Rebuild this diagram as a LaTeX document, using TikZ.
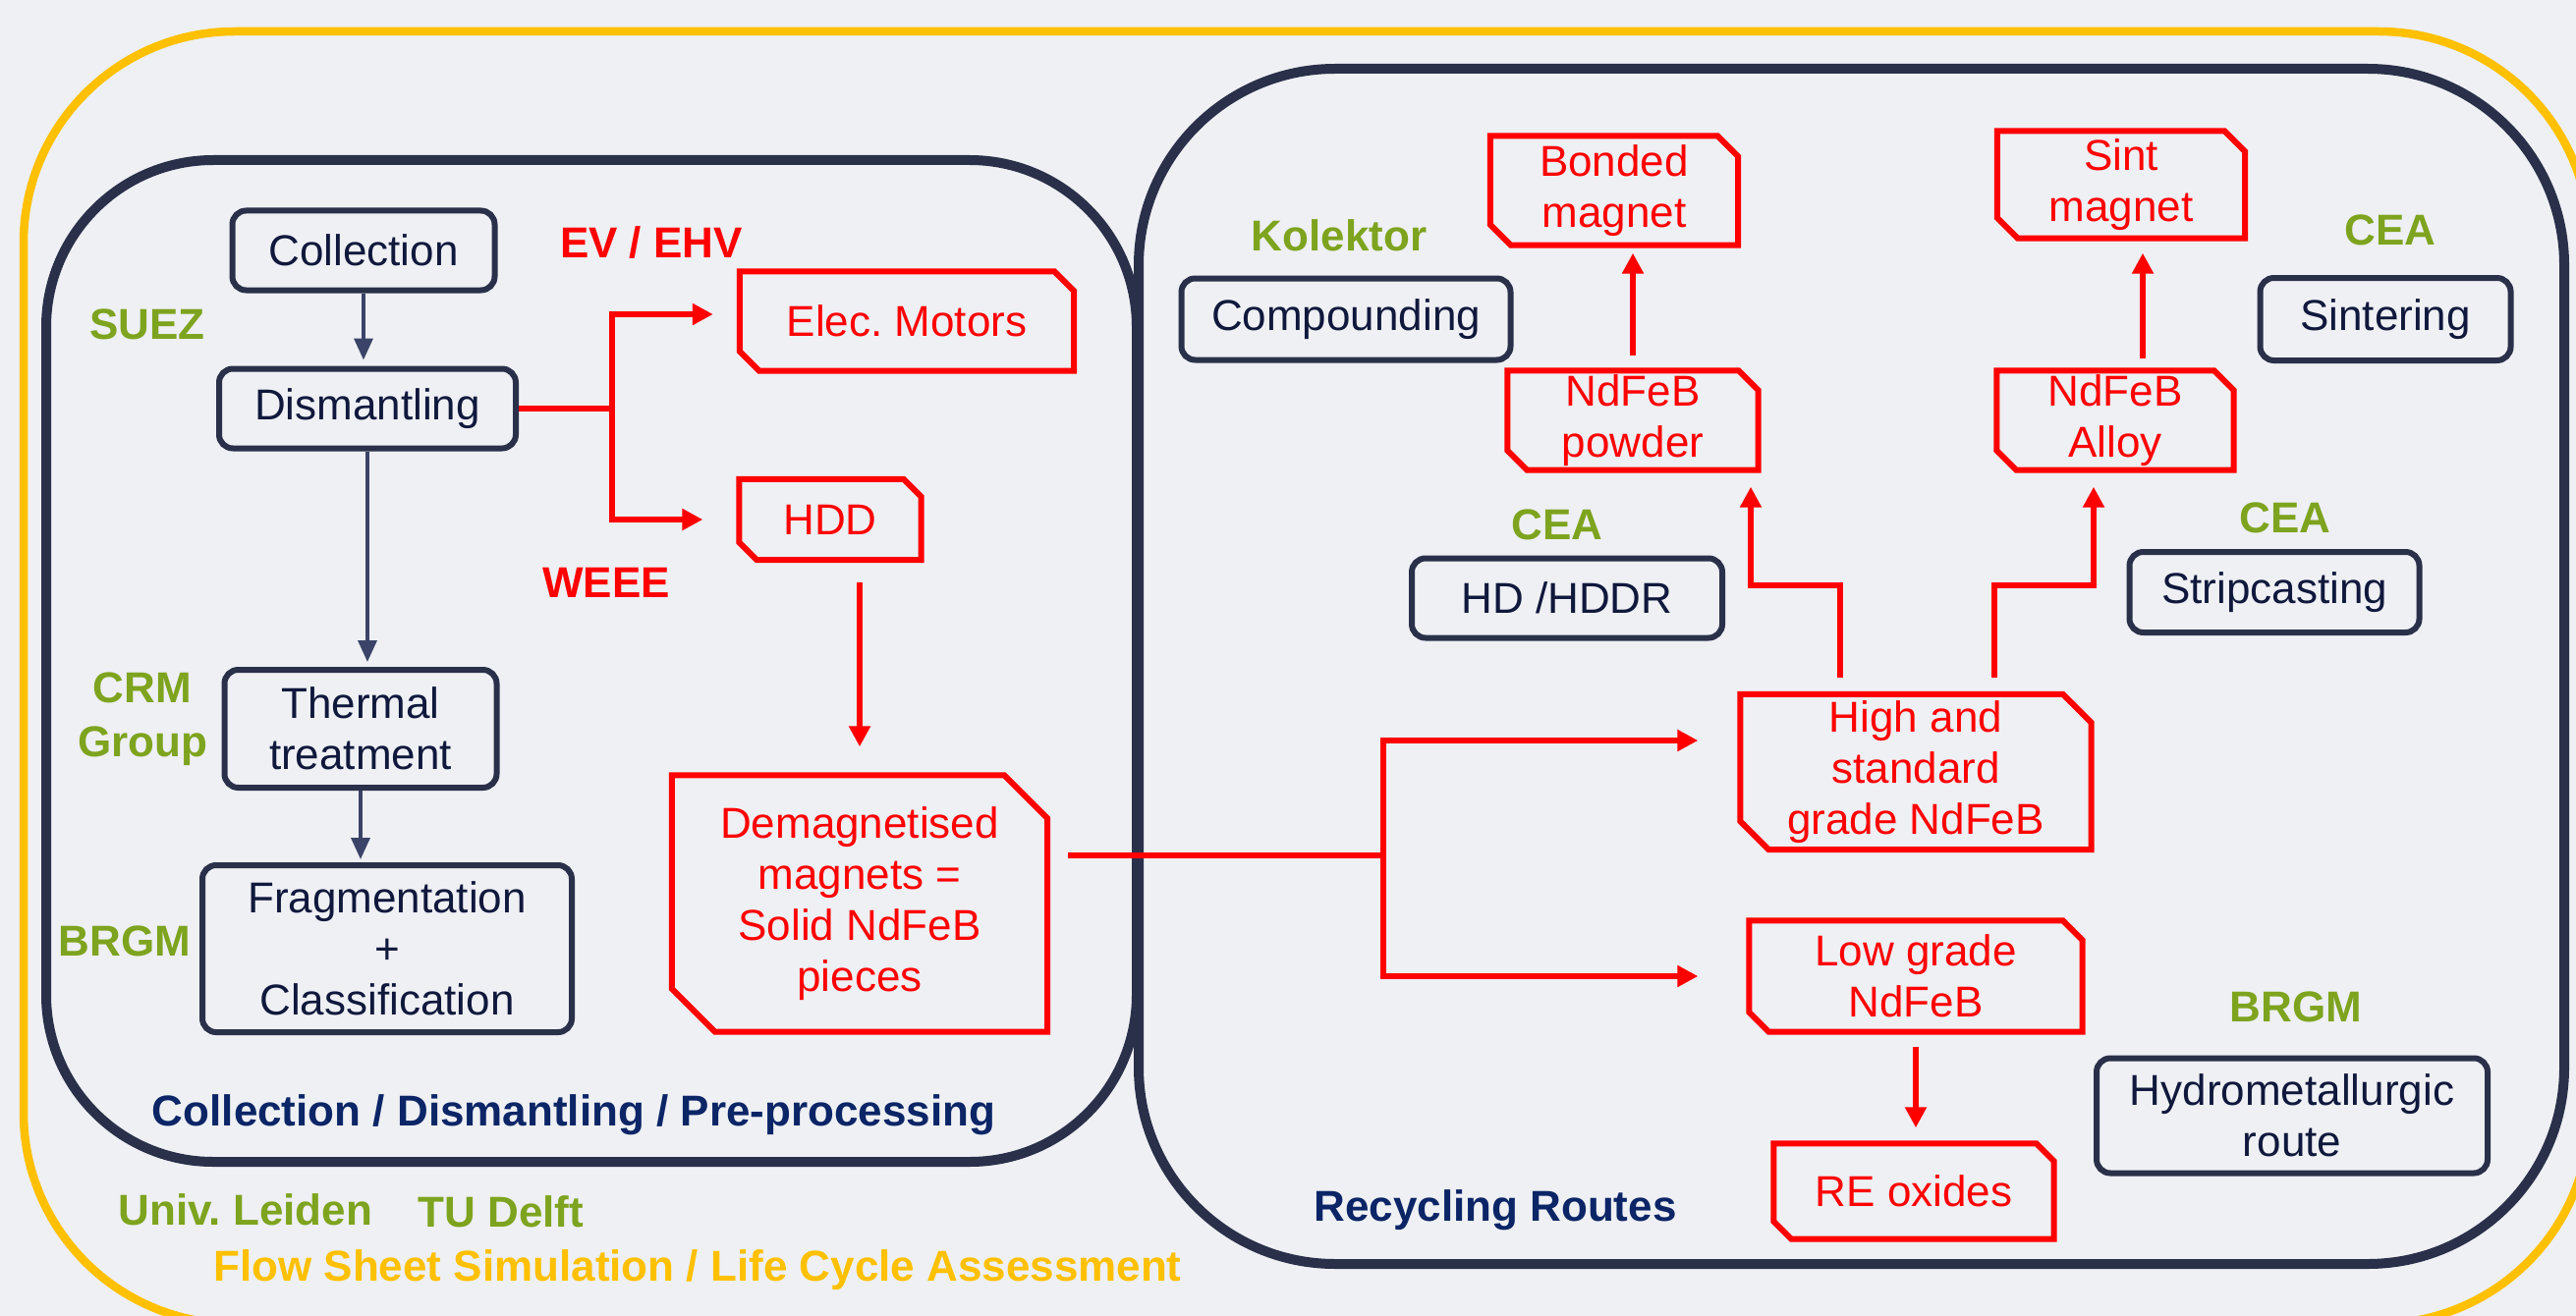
\documentclass[tikz,border=0pt]{standalone}
\usepackage{fontspec}
\setmainfont{Liberation Sans}
\usetikzlibrary{arrows.meta}
\definecolor{paper}{HTML}{EEF0F4}
\definecolor{frame}{HTML}{2A3049}
\definecolor{ink}{HTML}{10183C}
\definecolor{olive}{HTML}{7EA31E}
\definecolor{gold}{HTML}{FFC000}
\definecolor{deepblue}{HTML}{0B2566}
\definecolor{scarlet}{HTML}{FF0000}
\definecolor{slate}{HTML}{3B4468}
\frenchspacing

\begin{document}
\begin{tikzpicture}[x=1pt,y=-1pt,font=\fontsize{44}{52}\selectfont,
proc/.style={draw=frame,line width=6pt,rounded corners=14pt,text=ink,align=center,inner sep=0pt},
part/.style={text=scarlet,align=center,inner sep=0pt},
cutline/.style={draw=scarlet,line width=6pt},
firm/.style={text=olive,font=\fontsize{44}{55}\selectfont\bfseries,align=center,inner sep=0pt},
route/.style={text=scarlet,font=\fontsize{44}{52}\selectfont\bfseries,inner sep=0pt},
heading/.style={text=deepblue,font=\fontsize{44}{52}\selectfont\bfseries,inner sep=0pt},
area/.style={draw=frame,line width=10pt},
flowarrow/.style={draw=slate,line width=3.5pt,-{Triangle[length=22pt,width=19pt]}},
redline/.style={draw=scarlet,line width=5.5pt},
redarrow/.style={redline,-{Triangle[length=21pt,width=21pt]}}]
\useasboundingbox (0,0) rectangle (2622,1340);
\clip (0,0) rectangle (2622,1340);
\fill[paper] (0,0) rectangle (2622,1340);
\draw[gold,line width=8.5pt,rounded corners=215pt] (24,32) rectangle (2636,1348);
\draw[area,rounded corners=170pt] (47,163) rectangle (1157,1183);
\draw[area,rounded corners=200pt] (1159,70) rectangle (2610,1287);

\node[proc,minimum width=267,minimum height=81] (coll) at (370,255) {Collection};
\node[proc,minimum width=302,minimum height=81] (dism) at (374,416) {Dismantling};
\node[proc,minimum width=277,minimum height=120] (therm) at (367,742) {Thermal\\treatment};
\node[proc,minimum width=376,minimum height=170] (frag) at (394,966) {Fragmentation\\+\\Classification};
\node[proc,minimum width=335,minimum height=83] (comp) at (1370,325) {Compounding};
\node[proc,minimum width=255,minimum height=84] (sinter) at (2428,325) {Sintering};
\node[proc,minimum width=316,minimum height=81] (hddr) at (1595,609) {HD /HDDR};
\node[proc,minimum width=295,minimum height=82] (strip) at (2315,603) {Stripcasting};
\node[proc,minimum width=398,minimum height=117] (hydro) at (2333,1136) {Hydrometallurgic\\route};

\node[part,minimum width=340,minimum height=101] (elec) at (923,327) {Elec. Motors};
\node[part,minimum width=185,minimum height=82] (hdd) at (845,529) {HDD};
\node[part,minimum width=382,minimum height=261] (demag) at (875,920) {Demagnetised\\magnets =\\Solid NdFeB\\pieces};
\node[part,minimum width=252,minimum height=111] (bonded) at (1643,194) {Bonded\\magnet};
\node[part,minimum width=252,minimum height=109] (sint) at (2159,188) {Sint\\magnet};
\node[part,minimum width=255,minimum height=101] (powder) at (1662,428) {NdFeB\\powder};
\node[part,minimum width=241,minimum height=101] (alloy) at (2153,428) {NdFeB\\Alloy};
\node[part,minimum width=357,minimum height=158] (high) at (1950,786) {High and\\standard\\grade NdFeB};
\node[part,minimum width=339,minimum height=113] (low) at (1950,994) {Low grade\\NdFeB};
\node[part,minimum width=285,minimum height=97] (reox) at (1948,1213) {RE oxides};
\foreach \n/\c in {elec/20pt,hdd/18pt,demag/44pt,bonded/21pt,sint/21pt,powder/20pt,alloy/20pt,high/29pt,low/20pt,reox/18pt}
  \draw[cutline] (\n.north west) -- ([xshift=-\c]\n.north east) -- ([yshift=-\c]\n.north east) -- (\n.south east) -- ([xshift=\c]\n.south west) -- ([yshift=\c]\n.south west) -- cycle;

\node[firm] (suez) at (150,330) {SUEZ};
\node[firm] (crm) at (145,732) {CRM\\Group};
\node[firm] (brgmA) at (127,958) {BRGM};
\node[firm] (kolektor) at (1363,240) {Kolektor};
\node[firm] (ceaA) at (2433,234) {CEA};
\node[firm] (ceaB) at (1585,534) {CEA};
\node[firm] (ceaC) at (2326,527) {CEA};
\node[firm] (brgmB) at (2337,1025) {BRGM};
\node[firm] (leiden) at (250,1232) {Univ. Leiden};
\node[firm] (delft) at (510,1234) {TU Delft};
\node[route] (ev) at (663,247) {EV / EHV};
\node[route] (weee) at (617,593) {WEEE};
\node[heading] (pretitle) at (584,1135) {Collection / Dismantling / Pre-processing};
\node[heading] (rectitle) at (1522,1232) {Recycling Routes};
\node[heading,text=gold] (lcatitle) at (710,1293) {Flow Sheet Simulation / Life Cycle Assessment};

\draw[flowarrow,shorten >=6pt] (coll.south) -- (coll.south |- dism.north);
\draw[flowarrow,shorten >=5pt] (dism.south) -- (dism.south |- therm.north);
\draw[flowarrow,shorten >=3pt] (therm.south) -- (therm.south |- frag.north);

\coordinate (forkA) at (623,416);
\coordinate (forkB) at (1408,871);
\draw[redline] (dism.east) -- (forkA);
\draw[redarrow,shorten >=27pt] (forkA) |- ([yshift=7pt]elec.west);
\draw[redarrow,shorten >=37pt] (forkA) |- (hdd.west);
\draw[redarrow,shorten <=23pt,shorten >=29pt] (hdd.south -| demag.north) -- (demag.north);
\draw[redline,shorten <=21pt] ([yshift=49pt]demag.east) -- (forkB);
\draw[redarrow,shorten >=43pt] (forkB) |- ([yshift=32pt]high.west);
\draw[redarrow,shorten >=52pt] (forkB) |- (low.west);
\draw[redarrow,shorten <=15pt,shorten >=16pt] (low.south) -- (low.south |- reox.north);
\draw[redarrow,shorten <=17pt,shorten >=17pt] ([xshift=-77pt]high.north) -- ++(0,-111) -| ([xshift=120pt]powder.south);
\draw[redarrow,shorten <=17pt,shorten >=17pt] ([xshift=80pt]high.north) -- ++(0,-111) -| ([xshift=-22pt]alloy.south);
\draw[redarrow,shorten <=15pt,shorten >=8pt] (powder.north) -- (powder.north |- bonded.south);
\draw[redarrow,shorten <=12pt,shorten >=15pt] ([xshift=28pt]alloy.north) -- ([xshift=28pt]alloy.north |- sint.south);
\end{tikzpicture}
\end{document}
